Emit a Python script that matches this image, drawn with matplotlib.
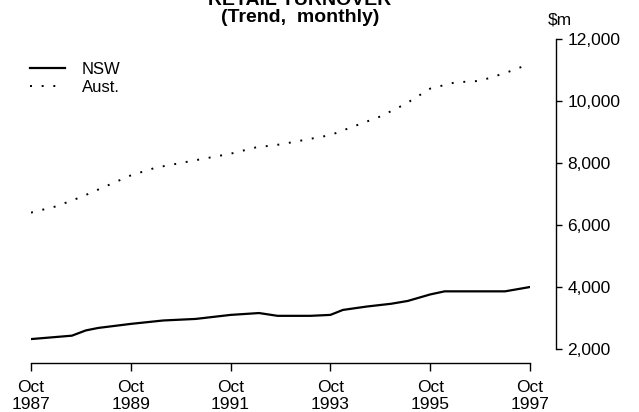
import matplotlib
matplotlib.use("Agg")
from matplotlib import pyplot as plt

# time in decimal years (Oct 1987 = 1987.75)
nsw_t = [1987.75, 1988.57, 1988.85, 1989.10, 1989.75, 1990.40, 1991.05, 1991.75,
         1992.32, 1992.69, 1993.35, 1993.75, 1994.00, 1994.48, 1994.97, 1995.30,
         1995.75, 1996.04, 1997.25, 1997.75]
nsw_v = [2320, 2430, 2600, 2680, 2810, 2920, 2970, 3100,
         3160, 3070, 3070, 3100, 3260, 3370, 3460, 3550,
         3760, 3860, 3860, 4000]

aust_t = [1987.75, 1988.25, 1988.75, 1989.25, 1989.75, 1990.25, 1990.75, 1991.25,
          1991.75, 1992.25, 1992.75, 1993.25, 1993.75, 1994.25, 1994.75, 1995.25,
          1995.75, 1996.25, 1996.75, 1997.25, 1997.75]
aust_v = [6400, 6600, 6900, 7250, 7600, 7850, 8000, 8150,
          8300, 8500, 8600, 8750, 8900, 9200, 9500, 9900,
          10400, 10600, 10650, 10900, 11200]

xticks = [1987.75, 1989.75, 1991.75, 1993.75, 1995.75, 1997.75]
xlabels = ["Oct\n1987", "Oct\n1989", "Oct\n1991", "Oct\n1993", "Oct\n1995", "Oct\n1997"]
yticks = [2000, 4000, 6000, 8000, 10000, 12000]
ylabels = ["2,000", "4,000", "6,000", "8,000", "10,000", "12,000"]

plt.rcParams['font.family'] = ['Liberation Sans', 'DejaVu Sans']

W, H = 639, 412
fig = plt.figure(figsize=(W / 100, H / 100), dpi=100)
ax = fig.add_axes([31 / W, (H - 349) / H, (530 - 31) / W, (349 - 39) / H])

ax.plot(nsw_t, nsw_v, color='black', linewidth=1.6, label="NSW")
ax.plot(aust_t, aust_v, color='black', linewidth=1.4, linestyle=(0, (1, 5)), label="Aust.")

ax.set_xlim(1987.75, 1997.75)
ax.set_ylim(2000, 12000)

ax.spines['left'].set_visible(False)
ax.spines['top'].set_visible(False)
ax.spines['right'].set_position(('outward', 19))
ax.spines['bottom'].set_position(('outward', 10))
ax.spines['right'].set_linewidth(1.0)
ax.spines['bottom'].set_linewidth(1.0)

ax.yaxis.tick_right()
ax.set_yticks(yticks)
ax.set_yticklabels(ylabels)
ax.set_xticks(xticks)
ax.set_xticklabels(xlabels)
ax.tick_params(axis='y', direction='out', length=4, width=1, pad=4, labelsize=12.5)
ax.tick_params(axis='x', direction='out', length=6, width=1, pad=6, labelsize=12.5)

leg = ax.legend(loc='upper left', bbox_to_anchor=(30 / W, 1 - 62 / H),
                bbox_transform=fig.transFigure, frameon=False, fontsize=12,
                handlelength=2.1, handletextpad=1.0, labelspacing=0.2,
                borderaxespad=0, borderpad=0)

fig.text(300 / W, 1 - 5 / H, "RETAIL TURNOVER", ha='center', va='baseline',
         fontsize=14, fontweight='bold')
fig.text(300 / W, 1 - 17 / H, "(Trend,  monthly)", ha='center', va='center',
         fontsize=14, fontweight='bold')
fig.text(548 / W, 1 - 20 / H, "$m", ha='left', va='center', fontsize=12.5)

fig.savefig("out.png", dpi=100)
